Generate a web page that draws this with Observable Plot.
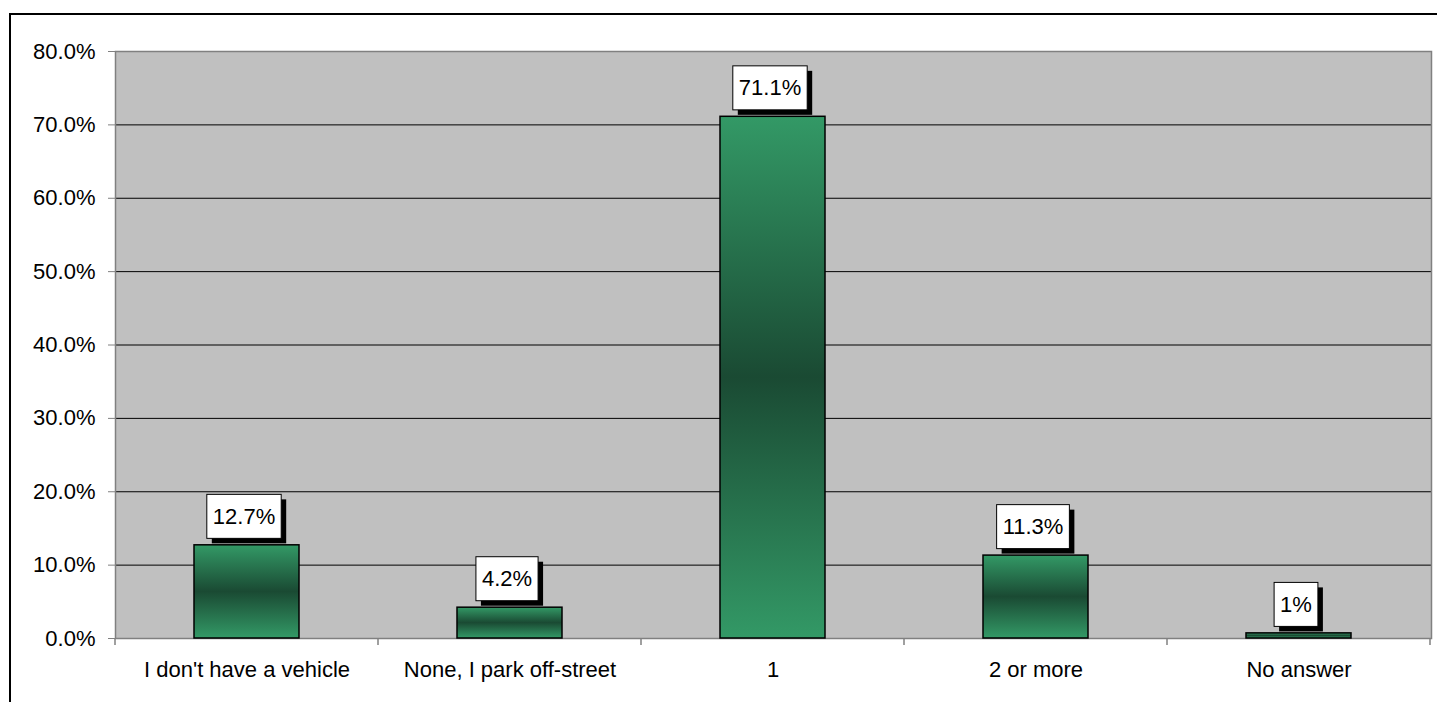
<!DOCTYPE html>
<html>
<head>
<meta charset="utf-8">
<script src="https://cdn.jsdelivr.net/npm/d3@7"></script>
<script src="https://cdn.jsdelivr.net/npm/@observablehq/plot@0.6"></script>
<style>
  html, body { margin: 0; padding: 0; background: #fff; overflow: hidden; }
  #wrap { position: relative; width: 1437px; height: 702px; }
  #border { position: absolute; left: 9px; top: 13px; width: 1500px; height: 800px; border: 2px solid #000; box-sizing: border-box; pointer-events: none; }
  #chart { position: absolute; left: 0; top: 0; }
</style>
</head>
<body>
<div id="wrap"><div id="border"></div><div id="chart"></div></div>
<script>
const categories = ["I don't have a vehicle", "None, I park off-street", "1", "2 or more", "No answer"];
const values = [12.7, 4.2, 71.1, 11.3, 0.7];
const labels = ["12.7%", "4.2%", "71.1%", "11.3%", "1%"];
const yTicks = [0, 10, 20, 30, 40, 50, 60, 70, 80];
const gridLines = [10, 20, 30, 40, 50, 60, 70];

const data = categories.map((c, i) => ({cat: c, value: values[i], label: labels[i]}));

const plot = Plot.plot({
  width: 1437,
  height: 702,
  marginLeft: 115,
  marginRight: 6,
  marginTop: 51,
  marginBottom: 64,
  style: {fontSize: "22px", fontFamily: "'Liberation Sans', Arial, sans-serif", background: "transparent", color: "#000"},
  x: {domain: categories, paddingInner: 0.6, paddingOuter: 0.3},
  y: {domain: [0, 80]},
  marks: [
    Plot.frame({fill: "#c0c0c0", stroke: null}),
    Plot.ruleY(gridLines, {stroke: "#000", strokeWidth: 1}),
    Plot.frame({stroke: "#808080", strokeWidth: 1.5}),
    Plot.axisY({ticks: yTicks, tickFormat: d => d.toFixed(1) + "%", tickSize: 7, tickPadding: 13, label: null, stroke: "#808080"}),
    Plot.axisX({tickSize: 0, tickPadding: 23, label: null}),
    Plot.barY(data, {x: "cat", y: "value", fill: "url(#barGrad)", stroke: "#000", strokeWidth: 1.5, className: "bars"}),
    Plot.text(data, {x: "cat", y: "value", text: "label", dy: -28.5, dx: -3, lineAnchor: "middle", fontSize: 22, fill: "#000", className: "lbl"})
  ]
});

document.getElementById("chart").appendChild(plot);
const svg = d3.select(plot);

// gradient definition
const defs = svg.insert("defs", ":first-child");
const grad = defs.append("linearGradient").attr("id", "barGrad").attr("x1", 0).attr("y1", 0).attr("x2", 0).attr("y2", 1);
grad.append("stop").attr("offset", "0%").attr("stop-color", "#339966");
grad.append("stop").attr("offset", "50%").attr("stop-color", "#1a4a33");
grad.append("stop").attr("offset", "100%").attr("stop-color", "#339966");
svg.selectAll(".bars rect").attr("fill", "url(#barGrad)");

// category boundary ticks below axis
const xs = plot.scale("x");
const ys = plot.scale("y");
const y0 = ys.apply(0);
const gap = (xs.step - xs.bandwidth) / 2;
const bounds = categories.map(c => xs.apply(c) - gap);
bounds.push(xs.apply(categories[categories.length - 1]) + xs.bandwidth + gap);
const tg = svg.append("g");
bounds.forEach(b => {
  tg.append("line").attr("x1", b).attr("x2", b).attr("y1", y0).attr("y2", y0 + 7).attr("stroke", "#808080").attr("stroke-width", 1.5);
});

// label boxes with shadows
const svgRect = plot.getBoundingClientRect();
const lblG = svg.select("g.lbl").node();
const boxG = d3.select(lblG.parentNode).insert("g", () => lblG);
svg.selectAll("g.lbl text").each(function() {
  const r = this.getBoundingClientRect();
  const padX = 6, padY = 9.5;
  const bx = r.left - svgRect.left - padX;
  const by = r.top - svgRect.top - padY;
  const bw = r.width + 2 * padX;
  const bh = r.height + 2 * padY;
  boxG.append("rect").attr("x", bx + 5).attr("y", by + 5).attr("width", bw).attr("height", bh).attr("fill", "#000");
  boxG.append("rect").attr("x", bx).attr("y", by).attr("width", bw).attr("height", bh).attr("fill", "#fff").attr("stroke", "#000").attr("stroke-width", 1);
});
</script>
</body>
</html>
